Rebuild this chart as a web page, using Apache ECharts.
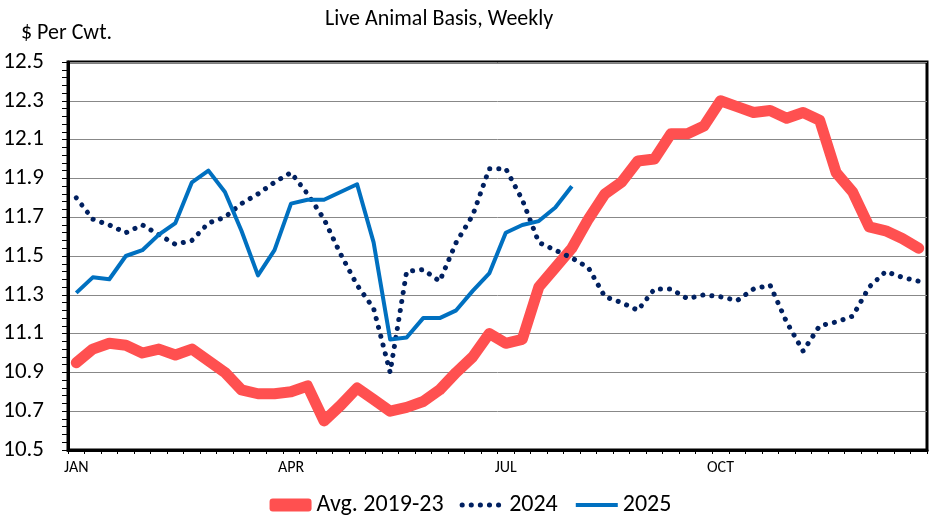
<!DOCTYPE html>
<html>
<head>
<meta charset="utf-8">
<script src="https://cdn.jsdelivr.net/npm/echarts@6/dist/echarts.min.js"></script>
<style>
html,body{margin:0;padding:0;background:#fff;}
#chart{width:941px;height:528px;}
</style>
</head>
<body>
<div id="chart"></div>
<script>
const weeks = ['W1','W2','W3','W4','W5','W6','W7','W8','W9','W10','W11','W12','W13','W14','W15','W16','W17','W18','W19','W20','W21','W22','W23','W24','W25','W26','W27','W28','W29','W30','W31','W32','W33','W34','W35','W36','W37','W38','W39','W40','W41','W42','W43','W44','W45','W46','W47','W48','W49','W50','W51','W52'];
const monthLabels = {'W1':'JAN','W14':'APR','W27':'JUL','W40':'OCT'};

const avg2019_23 = [10.95,11.02,11.05,11.04,11.00,11.02,10.99,11.02,10.96,10.90,10.81,10.79,10.79,10.80,10.83,10.65,10.73,10.82,10.76,10.70,10.72,10.75,10.81,10.90,10.98,11.10,11.05,11.07,11.34,11.44,11.54,11.69,11.82,11.88,11.99,12.00,12.13,12.13,12.17,12.30,12.27,12.24,12.25,12.21,12.24,12.20,11.93,11.83,11.65,11.63,11.59,11.54];
const y2024 = [11.80,11.69,11.66,11.62,11.66,11.61,11.56,11.58,11.67,11.70,11.77,11.82,11.88,11.93,11.82,11.69,11.51,11.35,11.23,10.90,11.42,11.43,11.37,11.57,11.71,11.95,11.95,11.79,11.57,11.53,11.49,11.44,11.29,11.26,11.22,11.33,11.33,11.28,11.30,11.29,11.27,11.33,11.35,11.16,11.01,11.14,11.16,11.19,11.34,11.42,11.39,11.37];
const y2025 = [11.31,11.39,11.38,11.50,11.53,11.61,11.67,11.88,11.94,11.83,11.63,11.40,11.53,11.77,11.79,11.79,11.83,11.87,11.57,11.07,11.08,11.18,11.18,11.22,11.32,11.41,11.62,11.66,11.68,11.75,11.86];

const FONT = 'Carlito, Lato, "Open Sans", sans-serif';
const chart = echarts.init(document.getElementById('chart'));
chart.setOption({
  animation: false,
  backgroundColor: '#fff',
  title: {
    text: 'Live Animal Basis, Weekly',
    left: 320, top: 3,
    textStyle: {fontFamily: FONT, fontSize: 22, fontWeight: 'normal', color: '#000'}
  },
  graphic: [{
    type: 'text', left: 21, top: 22,
    style: {text: '$ Per Cwt.', font: '22px ' + FONT, fill: '#000'}
  }],
  grid: {left: 68, right: 14, top: 62, bottom: 78, show: true, borderColor: '#000', borderWidth: 3, backgroundColor: 'transparent'},
  legend: {
    bottom: 6, left: 'center', itemWidth: 42, itemHeight: 13, itemGap: 16,
    textStyle: {fontFamily: FONT, fontSize: 24, color: '#000'},
    data: [
      {name: 'Avg. 2019-23', icon: 'roundRect', itemStyle: {color: '#FF5050'}},
      {name: '2024', itemStyle: {opacity: 0}, lineStyle: {width: 5, type: [0.1, 9], cap: 'round', color: '#002060'}},
      {name: '2025', itemStyle: {opacity: 0}, lineStyle: {width: 4, color: '#0070C0'}}
    ]
  },
  xAxis: {
    type: 'category', data: weeks, boundaryGap: true,
    axisLine: {lineStyle: {color: '#000', width: 3}},
    axisTick: {show: true, interval: 0, length: 4, lineStyle: {color: '#000', width: 1}},
    axisLabel: {
      interval: 0, margin: 10,
      formatter: v => monthLabels[v] || '',
      fontFamily: FONT, fontSize: 16, color: '#000'
    },
    splitLine: {show: false}
  },
  yAxis: {
    type: 'value', min: 10.5, max: 12.5, interval: 0.2,
    axisLine: {show: true, lineStyle: {color: '#000', width: 3}},
    axisTick: {show: true, length: 6, lineStyle: {color: '#000', width: 1}},
    minorTick: {show: true, splitNumber: 5, length: 6, lineStyle: {color: '#000', width: 1}},
    axisLabel: {
      margin: 24, formatter: v => v.toFixed(1),
      fontFamily: FONT, fontSize: 23, color: '#000'
    },
    splitLine: {show: true, lineStyle: {color: '#888', width: 1}}
  },
  series: [
    {
      name: 'Avg. 2019-23', type: 'line', data: avg2019_23, symbol: 'none',
      lineStyle: {color: '#FF5050', width: 11, cap: 'round', join: 'round'},
      itemStyle: {color: '#FF5050'}, z: 2
    },
    {
      name: '2024', type: 'line', data: y2024, symbol: 'none',
      lineStyle: {color: '#002060', width: 5, type: [0.1, 9], cap: 'round', join: 'round'},
      itemStyle: {color: '#002060'}, z: 3
    },
    {
      name: '2025', type: 'line', data: y2025, symbol: 'none',
      lineStyle: {color: '#0070C0', width: 4, join: 'round'},
      itemStyle: {color: '#0070C0'}, z: 4
    }
  ]
});
</script>
</body>
</html>
